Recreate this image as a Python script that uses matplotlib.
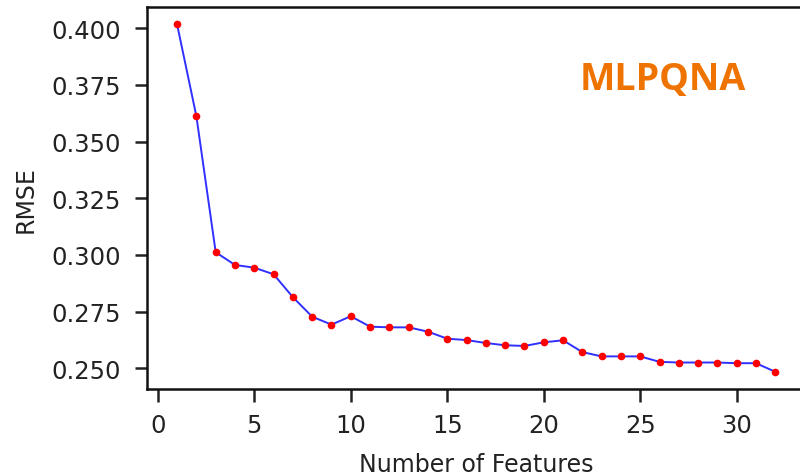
import matplotlib.pyplot as plt

n_features = list(range(1, 33))
rmse = [0.4016, 0.3611, 0.3012, 0.2956, 0.2944, 0.2915, 0.2814, 0.2728,
        0.2693, 0.2730, 0.2684, 0.2681, 0.2681, 0.2662, 0.2631, 0.2625,
        0.2612, 0.2602, 0.2599, 0.2615, 0.2624, 0.2572, 0.2553, 0.2553,
        0.2553, 0.2529, 0.2526, 0.2526, 0.2526, 0.2523, 0.2523, 0.2485]
model_name = "MLPQNA"

fig = plt.figure(figsize=(8, 4.77), dpi=100)
ax = fig.add_axes([0.184, 0.182, 0.8225, 0.801])

ax.plot(n_features, rmse, '-', color='#3030ff', lw=1.4)
ax.plot(n_features, rmse, 'o', color='red', ms=4.5, mec='red')

ax.set_xlim(-0.55, 33.55)
ax.set_xticks([0, 5, 10, 15, 20, 25, 30])
ax.set_yticks([0.250, 0.275, 0.300, 0.325, 0.350, 0.375, 0.400])
ax.yaxis.set_major_formatter(plt.FormatStrFormatter('%.3f'))
ax.tick_params(labelsize=17.5, length=9, width=1.8, pad=8, colors='#222222')
ax.tick_params(axis='y', pad=10)
for s in ax.spines.values():
    s.set_linewidth(1.8)
    s.set_color('#111111')
# right edge of the frame falls just past the figure border
ax.spines['right'].set_visible(False)

ax.set_xlabel('Number of Features', fontsize=17, color='#222222', labelpad=11)
ax.set_ylabel('RMSE', fontsize=17, color='#222222', labelpad=10)

fig.text(0.828, 0.832, model_name, fontsize=27, fontweight='bold',
         family='Open Sans', color='#ef7300', ha='center', va='center')

fig.savefig('out.png', dpi=100)
